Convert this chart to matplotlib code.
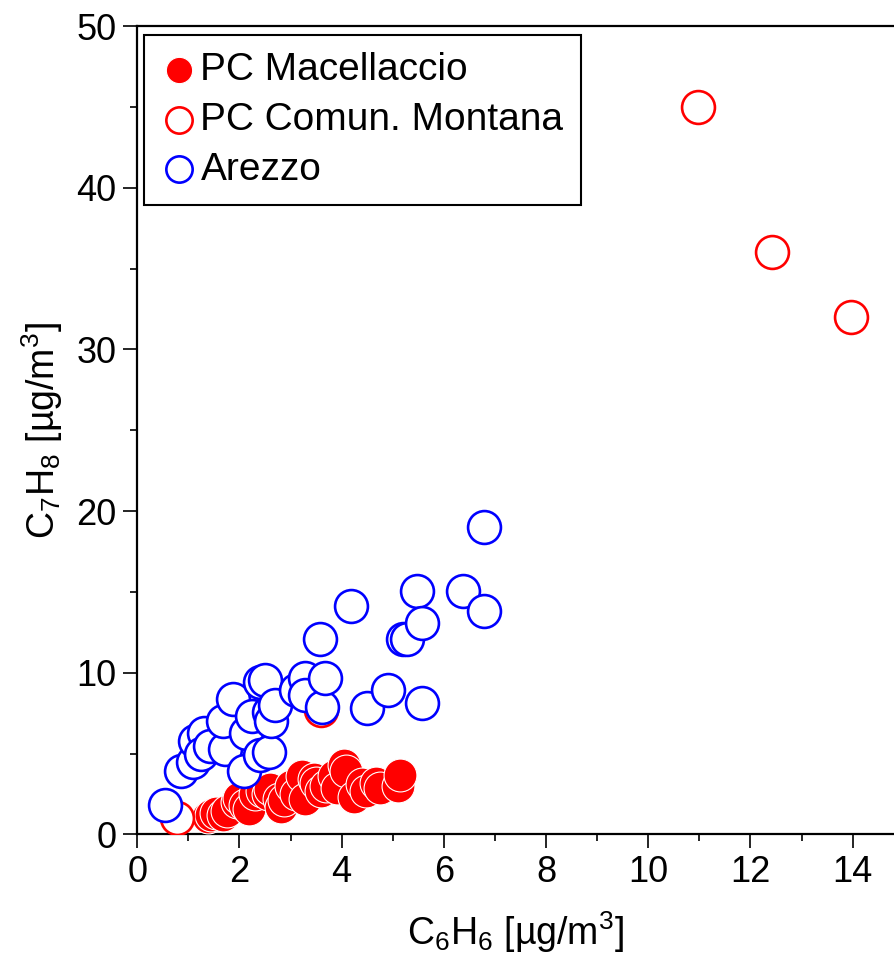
import matplotlib

matplotlib.use("Agg")
import matplotlib.pyplot as plt
from matplotlib.ticker import MultipleLocator

# PC Macellaccio (filled red)
mac_x = [1.38, 1.45, 1.55, 1.68, 1.75, 1.95, 2.0, 2.1, 2.18, 2.3, 2.45, 2.55,
         2.6, 2.78, 2.82, 2.88, 3.0, 3.1, 3.22, 3.28, 3.45, 3.5, 3.6, 3.7,
         3.85, 3.9, 4.05, 4.08, 4.25, 4.4, 4.48, 4.68, 4.75, 5.1, 5.15]
mac_y = [1.1, 1.2, 1.3, 1.2, 1.45, 2.0, 2.25, 1.8, 1.6, 2.5, 2.7, 2.5,
         2.8, 2.2, 1.7, 2.1, 3.0, 2.5, 3.6, 2.2, 3.4, 3.2, 2.7, 3.0,
         3.6, 2.9, 4.3, 3.9, 2.3, 3.1, 2.7, 3.2, 2.9, 3.0, 3.7]

# PC Comun. Montana (open red)
mon_x = [0.78, 3.6, 10.97, 12.42, 13.96]
mon_y = [1.0, 7.7, 45.0, 36.0, 32.0]

# Arezzo (open blue)
are_x = [0.55, 0.85, 1.1, 1.13, 1.3, 1.25, 1.43, 1.72, 1.68, 1.88, 2.08, 2.12,
         2.25, 2.4, 2.57, 2.4, 2.5, 2.57, 2.62, 2.7, 3.1, 3.28, 3.28, 3.58,
         3.62, 3.68, 4.18, 4.5, 4.9, 5.2, 5.28, 5.48, 5.58, 5.58, 6.38,
         6.78, 6.78]
are_y = [1.8, 3.9, 4.5, 5.8, 6.3, 4.95, 5.45, 5.3, 7.0, 8.35, 3.9, 6.3,
         7.3, 4.9, 5.1, 9.4, 9.55, 7.6, 7.0, 8.0, 8.95, 9.7, 8.65, 12.1,
         7.9, 9.65, 14.1, 7.85, 8.95, 12.1, 12.1, 15.05, 13.05, 8.15, 15.05,
         19.0, 13.8]

plt.rcParams["font.family"] = ["Liberation Sans", "DejaVu Sans"]
plt.rcParams["mathtext.default"] = "regular"

fig = plt.figure(figsize=(8.94, 9.58), dpi=100)
ax = fig.add_axes([0.1535, 0.129, 0.8465, 0.8438])

ms = 560
ax.scatter(mac_x, mac_y, s=ms, c="#ff0000", edgecolors="white", linewidths=0.8,
           label="PC Macellaccio", zorder=3)
ax.scatter(mon_x, mon_y, s=ms, facecolors="white", edgecolors="#ff0000",
           linewidths=1.9, label="PC Comun. Montana", zorder=4)
ax.scatter(are_x, are_y, s=ms, facecolors="white", edgecolors="#0000ff",
           linewidths=1.9, label="Arezzo", zorder=5)

ax.set_xlim(0, 14.81)
ax.set_ylim(0, 50)
ax.xaxis.set_major_locator(MultipleLocator(2))
ax.xaxis.set_minor_locator(MultipleLocator(1))
ax.yaxis.set_major_locator(MultipleLocator(10))
ax.yaxis.set_minor_locator(MultipleLocator(5))
ax.tick_params(which="major", direction="out", length=10, width=1.2, labelsize=26, pad=5)
ax.tick_params(which="minor", direction="out", length=5, width=1.2)
ax.spines["right"].set_visible(False)
for s in ["left", "top", "bottom"]:
    ax.spines[s].set_linewidth(1.6)

ax.set_xlabel(r"C$_6$H$_6$ [µg/m$^3$]", fontsize=27, labelpad=14)
ax.set_ylabel(r"C$_7$H$_8$ [µg/m$^3$]", fontsize=27, labelpad=8)

leg = ax.legend(loc="upper left", bbox_to_anchor=(0.009, 0.989), fontsize=28,
                markerscale=0.8, handletextpad=0.1, labelspacing=0.35,
                borderpad=0.45, handlelength=0.9, fancybox=False,
                framealpha=1, edgecolor="black", borderaxespad=0)
leg.get_frame().set_linewidth(1.5)

fig.savefig("out.png", dpi=100)
